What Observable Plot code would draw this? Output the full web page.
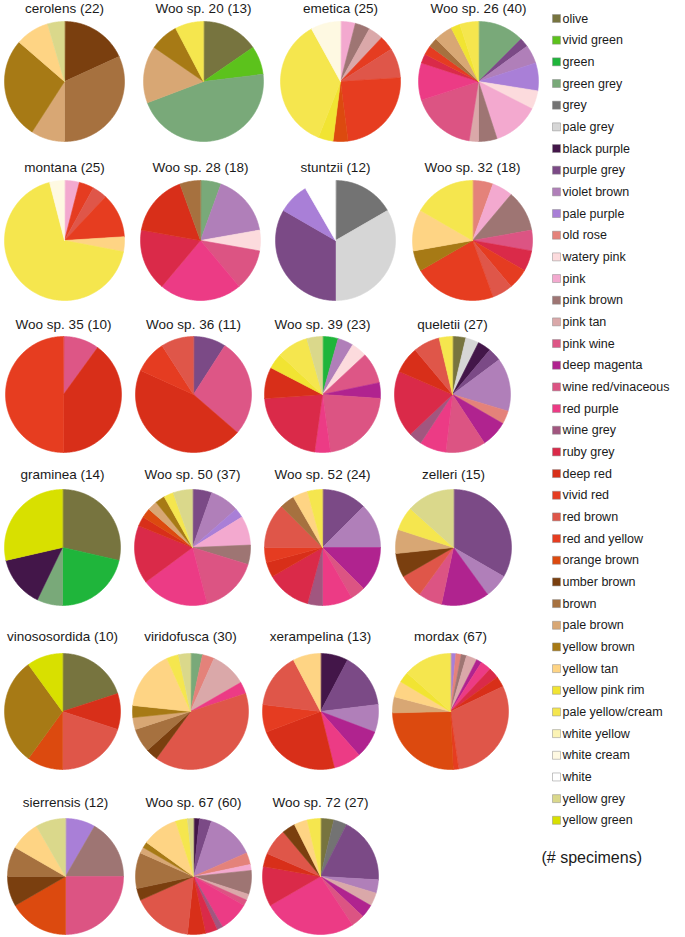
<!DOCTYPE html>
<html><head><meta charset="utf-8">
<script src="https://cdn.jsdelivr.net/npm/d3@7"></script>
<script src="https://cdn.jsdelivr.net/npm/@observablehq/plot@0.6"></script>
<style>body{margin:0;background:#fff} svg{display:block}</style>
</head><body><div id="chart"></div>
<script>
// ---- categories (legend order) and their colours ----
const categories = ["olive","vivid green","green","green grey","grey","pale grey","black purple","purple grey","violet brown","pale purple","old rose","watery pink","pink","pink brown","pink tan","pink wine","deep magenta","wine red/vinaceous","red purple","wine grey","ruby grey","deep red","vivid red","red brown","red and yellow","orange brown","umber brown","brown","pale brown","yellow brown","yellow tan","yellow pink rim","pale yellow/cream","white yellow","white cream","white","yellow grey","yellow green"];
const colors = ["#77743f","#5cc21c","#1fb53b","#79a979","#737373","#d6d6d6","#431649","#7b4a86","#b07fb9","#a97fd7","#e4827a","#fcdbdd","#f3a9cf","#9e7573","#daa8a9","#dd5686","#b0238f","#dc5483","#ec3b85","#a1567f","#da2a49","#d82f19","#e53c21","#df5649","#e63d20","#dc4a0f","#7a3f0f","#a6713f","#d8a774","#a77a15","#fed484","#f1e432","#f5e64e","#fbf3b5","#fef9e2","#ffffff","#dad88b","#d8e000"];

// ---- species, specimen counts, colour composition ----
const species = ["cerolens","Woo sp. 20","emetica","Woo sp. 26","montana","Woo sp. 28","stuntzii","Woo sp. 32","Woo sp. 35","Woo sp. 36","Woo sp. 39","queletii","graminea","Woo sp. 50","Woo sp. 52","zelleri","vinososordida","viridofusca","xerampelina","mordax","sierrensis","Woo sp. 67","Woo sp. 72"];
const specimens = [22,13,25,40,25,18,12,18,10,11,23,27,14,37,24,15,10,30,13,67,12,60,27];
const composition = [
  [["umber brown",4],["brown",7],["pale brown",2],["yellow brown",6],["yellow tan",2],["yellow grey",1]],
  [["olive",2],["vivid green",1],["green grey",6],["pale brown",2],["yellow brown",1],["pale yellow/cream",1]],
  [["pink",1],["pink brown",1],["pink tan",1],["vivid red",1],["red brown",2],["red and yellow",6],["orange brown",1],["yellow pink rim",1],["pale yellow/cream",9],["white cream",2]],
  [["green grey",5],["purple grey",1],["violet brown",2],["pale purple",3],["watery pink",2],["pink",5],["pink brown",2],["pink tan",1],["wine red/vinaceous",7],["red purple",4],["ruby grey",1],["vivid red",1],["brown",1],["pale brown",2],["yellow pink rim",1],["pale yellow/cream",2]],
  [["pink",1],["vivid red",1],["red brown",1],["red and yellow",3],["yellow tan",1],["pale yellow/cream",17],["white cream",1]],
  [["green grey",1],["violet brown",3],["watery pink",1],["wine red/vinaceous",2],["red purple",4],["ruby grey",3],["deep red",3],["brown",1]],
  [["grey",2],["pale grey",4],["purple grey",4],["pale purple",1],["white",1]],
  [["old rose",1],["pink",1],["pink brown",2],["wine red/vinaceous",1],["ruby grey",1],["vivid red",1],["red brown",1],["red and yellow",4],["yellow brown",1],["yellow tan",2],["pale yellow/cream",3]],
  [["pink wine",1],["deep red",4],["red and yellow",5]],
  [["purple grey",1],["pink wine",3],["deep red",5],["vivid red",1],["red brown",1]],
  [["green",1],["violet brown",1],["watery pink",1],["pink wine",2],["deep magenta",1],["wine red/vinaceous",5],["red purple",1],["ruby grey",5],["deep red",2],["yellow pink rim",1],["pale yellow/cream",2],["yellow grey",1]],
  [["olive",1],["pale grey",1],["black purple",1],["purple grey",1],["violet brown",4],["old rose",1],["deep magenta",2],["wine red/vinaceous",3],["red purple",2],["wine grey",1],["ruby grey",5],["deep red",2],["red brown",2],["pale yellow/cream",1]],
  [["olive",4],["green",3],["green grey",1],["black purple",2],["yellow green",4]],
  [["purple grey",2],["violet brown",3],["pale purple",1],["pink",3],["pink brown",2],["wine red/vinaceous",6],["red purple",7],["ruby grey",6],["deep red",1],["orange brown",1],["pale brown",1],["yellow brown",1],["pale yellow/cream",1],["yellow grey",2]],
  [["purple grey",3],["violet brown",3],["deep magenta",3],["wine red/vinaceous",1],["red purple",2],["wine grey",1],["ruby grey",3],["deep red",1],["vivid red",1],["red brown",3],["brown",1],["yellow tan",1],["pale yellow/cream",1]],
  [["purple grey",5],["violet brown",1],["deep magenta",2],["wine red/vinaceous",1],["red brown",1],["umber brown",1],["pale brown",1],["pale yellow/cream",1],["yellow grey",2]],
  [["olive",2],["deep red",1],["red brown",2],["orange brown",1],["yellow brown",3],["yellow green",1]],
  [["green grey",1],["old rose",1],["pink tan",3],["red purple",1],["red brown",12],["umber brown",1],["brown",2],["pale brown",1],["yellow brown",1],["yellow tan",5],["pale yellow/cream",1],["yellow grey",1]],
  [["black purple",1],["purple grey",2],["violet brown",1],["deep magenta",1],["red purple",1],["deep red",3],["vivid red",1],["red brown",2],["yellow tan",1]],
  [["pale purple",1],["old rose",1],["pink brown",1],["pink tan",2],["deep magenta",1],["red purple",2],["ruby grey",2],["deep red",2],["red brown",20],["red and yellow",1],["orange brown",17],["pale brown",3],["yellow tan",3],["yellow pink rim",2],["pale yellow/cream",9]],
  [["pale purple",1],["pink brown",2],["wine red/vinaceous",3],["orange brown",2],["umber brown",1],["brown",1],["yellow tan",1],["yellow grey",1]],
  [["black purple",1],["purple grey",2],["violet brown",8],["old rose",2],["pink",1],["pink brown",4],["pink tan",1],["wine red/vinaceous",1],["red purple",5],["wine grey",1],["ruby grey",2],["deep red",3],["red brown",10],["umber brown",2],["brown",6],["pale brown",1],["yellow brown",1],["yellow tan",6],["pale yellow/cream",2],["yellow grey",1]],
  [["olive",1],["grey",1],["purple grey",5],["violet brown",1],["pink tan",1],["deep magenta",1],["wine red/vinaceous",1],["red purple",7],["ruby grey",3],["deep red",1],["red brown",2],["umber brown",1],["yellow tan",1],["pale yellow/cream",1]]
];
const legendNote = "(# specimens)";

// ---- layout (pixel space of the 685x937 picture) ----
const W = 685, H = 937;
const rowY = [81, 240, 394, 547, 711, 876];
const titleY = [8.5, 167.5, 324.5, 474.5, 636.5, 802.5];
const rowR = [60, 60, 58, 58, 58, 58];
const colX = [[64,203,340,478],[64,200,335,472],[63,193,322,452],[62,192,322,453],[62,190,320,450],[65,193,320]];
const legendX = 556, legendY0 = 18, legendStep = 21.67;
const font = "Liberation Sans, Arial, Helvetica, sans-serif";

const points = [];
const titles = [];
species.forEach((name, k) => {
  const row = Math.floor(k / 4), col = k % 4;
  const cx = colX[row][col], cy = rowY[row], r = rowR[row];
  const comp = composition[k].slice().sort((a, b) => categories.indexOf(a[0]) - categories.indexOf(b[0]));
  const arcs = d3.pie().sort(null).value(d => d[1])(comp);
  arcs.forEach((a, j) => {
    const id = k + "-" + j;
    points.push({id, cat: a.data[0], x: cx, y: cy});
    const steps = Math.max(2, Math.ceil((a.endAngle - a.startAngle) / (Math.PI / 180)));
    for (let s = 0; s <= steps; s++) {
      const t = a.startAngle + (a.endAngle - a.startAngle) * s / steps;
      points.push({id, cat: a.data[0], x: cx + r * Math.sin(t), y: cy - r * Math.cos(t)});
    }
  });
  titles.push({x: cx, y: titleY[row], text: `${name} (${specimens[k]})`});
});

const plot = Plot.plot({
  width: W, height: H, margin: 0,
  x: {domain: [0, W], axis: null},
  y: {domain: [0, H], reverse: true, axis: null},
  color: {type: "ordinal", domain: categories, range: colors},
  style: {fontFamily: font, background: "#fff"},
  marks: [
    Plot.line(points, {x: "x", y: "y", z: "id", fill: "cat", stroke: "cat", strokeWidth: 0.6, curve: "linear-closed"}),
    Plot.text(titles, {x: "x", y: "y", text: "text", fontSize: 13.5, fill: "#1a1a1a", fontFamily: font}),
    Plot.dot(categories, {x: legendX, y: (d, i) => legendY0 + i * legendStep, symbol: "square", r: 4.5, fill: d => d, stroke: "#8a8a8a", strokeWidth: 0.5}),
    Plot.text(categories, {x: legendX + 6, y: (d, i) => legendY0 + i * legendStep, text: d => d, textAnchor: "start", fontSize: 12.5, fill: "#1a1a1a", fontFamily: font}),
    Plot.text([legendNote], {x: 541, y: 857, text: d => d, textAnchor: "start", fontSize: 16, fill: "#1a1a1a", fontFamily: font})
  ]
});
document.getElementById("chart").appendChild(plot);
</script>
</body></html>
